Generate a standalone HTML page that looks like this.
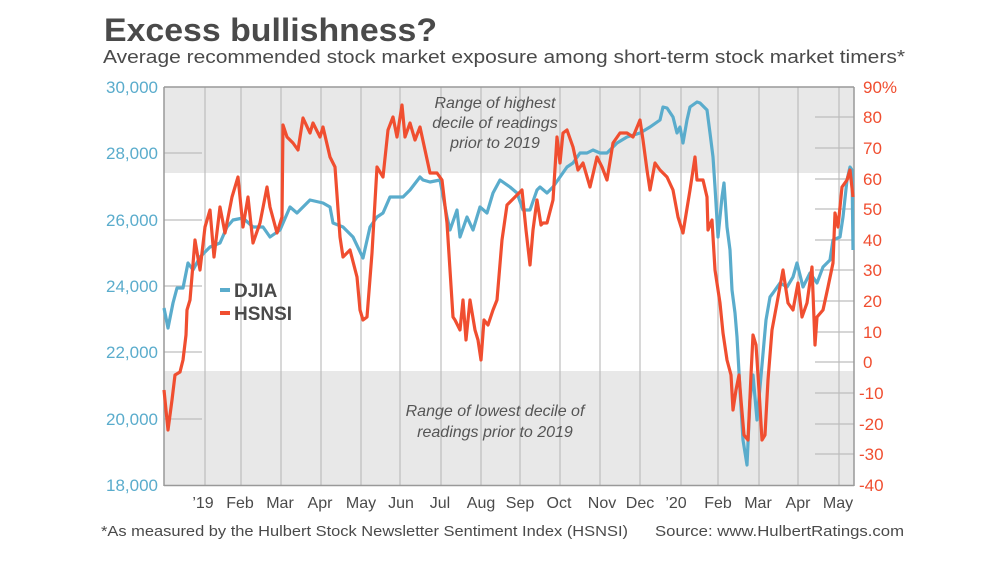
<!DOCTYPE html>
<html><head><meta charset="utf-8"><style>
body{margin:0;background:#fff;}
svg{display:block;font-family:"Liberation Sans",sans-serif;}
</style></head><body>
<svg width="1000" height="562" viewBox="0 0 1000 562">
<text x="104" y="41" font-size="32" font-weight="bold" fill="#4a4a4a" textLength="333" lengthAdjust="spacingAndGlyphs">Excess bullishness?</text>
<text x="103" y="63" font-size="18" fill="#4a4a4a" textLength="802" lengthAdjust="spacingAndGlyphs">Average recommended stock market exposure among short-term stock market timers*</text>
<rect x="164" y="87" width="690" height="86" fill="#e8e8e8"/>
<rect x="164" y="371" width="690" height="114" fill="#e8e8e8"/>
<g stroke="#bdbdbd" stroke-width="1.2">
<line x1="205" y1="87" x2="205" y2="485"/><line x1="241" y1="87" x2="241" y2="485"/><line x1="281" y1="87" x2="281" y2="485"/><line x1="321" y1="87" x2="321" y2="485"/><line x1="361" y1="87" x2="361" y2="485"/><line x1="400" y1="87" x2="400" y2="485"/><line x1="441" y1="87" x2="441" y2="485"/><line x1="481" y1="87" x2="481" y2="485"/><line x1="520" y1="87" x2="520" y2="485"/><line x1="560" y1="87" x2="560" y2="485"/><line x1="600" y1="87" x2="600" y2="485"/><line x1="640" y1="87" x2="640" y2="485"/><line x1="681" y1="87" x2="681" y2="485"/><line x1="718" y1="87" x2="718" y2="485"/><line x1="759" y1="87" x2="759" y2="485"/><line x1="798" y1="87" x2="798" y2="485"/><line x1="839" y1="87" x2="839" y2="485"/>
<line x1="164" y1="153" x2="202" y2="153"/><line x1="164" y1="220" x2="202" y2="220"/><line x1="164" y1="286" x2="202" y2="286"/><line x1="164" y1="352" x2="202" y2="352"/><line x1="164" y1="419" x2="202" y2="419"/>
<line x1="815" y1="117" x2="854" y2="117"/><line x1="815" y1="148" x2="854" y2="148"/><line x1="815" y1="179" x2="854" y2="179"/><line x1="815" y1="209" x2="854" y2="209"/><line x1="815" y1="240" x2="854" y2="240"/><line x1="815" y1="270" x2="854" y2="270"/><line x1="815" y1="301" x2="854" y2="301"/><line x1="815" y1="332" x2="854" y2="332"/><line x1="815" y1="362" x2="854" y2="362"/><line x1="815" y1="393" x2="854" y2="393"/><line x1="815" y1="424" x2="854" y2="424"/><line x1="815" y1="454" x2="854" y2="454"/>
</g>
<g stroke="#999" stroke-width="1.5"><line x1="164" y1="87" x2="854" y2="87"/><line x1="164" y1="87" x2="164" y2="486"/><line x1="854" y1="87" x2="854" y2="486"/><line x1="164" y1="485.5" x2="854" y2="485.5"/></g>
<g font-size="17" fill="#5aaccc" text-anchor="end">
<text x="158" y="93">30,000</text><text x="158" y="159">28,000</text><text x="158" y="226">26,000</text><text x="158" y="292">24,000</text><text x="158" y="358">22,000</text><text x="158" y="425">20,000</text><text x="158" y="491">18,000</text>
</g>
<g font-size="17" fill="#f04e30">
<text x="863" y="93">90%</text><text x="863" y="123">80</text><text x="863" y="154">70</text><text x="863" y="185">60</text><text x="863" y="215">50</text><text x="863" y="246">40</text><text x="863" y="276">30</text><text x="863" y="307">20</text><text x="863" y="338">10</text><text x="863" y="368">0</text><text x="859" y="399">-10</text><text x="859" y="430">-20</text><text x="859" y="460">-30</text><text x="859" y="491">-40</text>
</g>
<g font-size="16" fill="#4a4a4a" text-anchor="middle">
<text x="203" y="508">’19</text><text x="240" y="508">Feb</text><text x="280" y="508">Mar</text><text x="320" y="508">Apr</text><text x="361" y="508">May</text><text x="401" y="508">Jun</text><text x="440" y="508">Jul</text><text x="481" y="508">Aug</text><text x="520" y="508">Sep</text><text x="559" y="508">Oct</text><text x="602" y="508">Nov</text><text x="640" y="508">Dec</text><text x="676" y="508">’20</text><text x="718" y="508">Feb</text><text x="758" y="508">Mar</text><text x="798" y="508">Apr</text><text x="838" y="508">May</text>
</g>
<g font-size="16" font-style="italic" fill="#555" text-anchor="middle">
<text x="495" y="108">Range of highest</text><text x="495" y="128">decile of readings</text><text x="495" y="148">prior to 2019</text>
<text x="495" y="416">Range of lowest decile of</text><text x="495" y="437">readings prior to 2019</text>
</g>
<polyline fill="none" stroke="#5aaccc" stroke-width="3.2" stroke-linejoin="round" points="164,308 168,328 173,303 177,288 183,288 188,263 193,270 200,257 210,247 220,243 227,227 233,220 243,218 253,227 263,227 270,237 280,230 290,207 297,213 310,200 323,203 330,207 333,223 343,227 353,237 363,258 370,227 377,217 383,213 390,197 403,197 410,190 420,177 423,180 430,182 440,180 447,217 450,230 457,210 460,237 467,217 473,230 480,207 487,213 493,193 500,180 510,187 517,193 523,210 530,210 537,190 540,187 547,193 553,187 560,177 567,167 573,163 580,153 587,153 593,150 600,153 607,153 617,143 627,137 640,133 650,127 660,120 663,107 667,108 673,117 677,133 680,127 683,143 687,120 690,107 697,102 700,103 707,110 710,133 713,157 715,187 717,220 718,237 722,197 724,183 727,227 730,250 732,290 735,313 737,337 740,390 743,440 747,465 750,400 753,375 757,420 762,365 766,320 770,297 773,293 780,283 787,287 793,277 797,263 803,287 810,273 817,283 823,267 830,260 833,240 840,237 843,217 847,180 850,167 852,170 853,250"/>
<polyline fill="none" stroke="#f04e30" stroke-width="3.2" stroke-linejoin="round" points="164,390 168,430 172,400 175,375 180,372 183,360 186,335 187,310 190,300 195,240 200,270 205,227 210,210 214,257 220,207 225,233 232,197 238,177 243,227 248,197 253,243 260,223 267,187 270,207 277,233 282,217 283,125 287,137 293,143 298,150 303,118 310,133 313,123 320,137 323,127 330,157 335,167 340,237 343,257 350,250 357,277 360,310 363,320 367,317 372,253 377,167 383,177 388,130 393,117 397,137 402,105 405,137 410,123 415,140 420,127 425,150 430,173 437,173 442,180 447,223 453,317 455,320 460,330 463,300 466,340 470,300 475,330 478,340 481,360 484,320 488,325 493,310 497,300 502,240 507,205 512,200 517,195 522,190 526,230 530,265 533,230 537,200 541,225 543,223 547,223 553,200 557,137 560,163 563,133 567,130 573,147 578,170 583,163 590,187 597,157 602,167 607,180 613,143 620,133 627,133 633,137 640,120 643,140 647,170 650,190 655,163 660,170 667,177 673,190 678,217 683,233 690,190 695,157 697,180 703,180 707,197 708,230 712,220 715,270 720,303 723,333 727,360 731,375 733,410 736,390 739,375 741,400 744,435 748,440 751,375 753,335 756,345 759,390 762,440 765,435 768,380 772,330 777,303 783,270 788,303 793,310 798,283 802,317 807,303 812,267 815,345 817,317 823,310 828,287 833,263 835,213 838,227 842,187 847,180 850,170 853,197"/>
<line x1="220" y1="290" x2="230" y2="290" stroke="#5aaccc" stroke-width="4"/>
<line x1="220" y1="313" x2="230" y2="313" stroke="#f04e30" stroke-width="4"/>
<text x="234" y="297" font-size="19" font-weight="bold" fill="#4a4a4a">DJIA</text>
<text x="234" y="320" font-size="19" font-weight="bold" fill="#4a4a4a">HSNSI</text>
<text x="101" y="536" font-size="15" fill="#4a4a4a" textLength="527" lengthAdjust="spacingAndGlyphs">*As measured by the Hulbert Stock Newsletter Sentiment Index (HSNSI)</text>
<text x="655" y="536" font-size="15" fill="#4a4a4a" textLength="249" lengthAdjust="spacingAndGlyphs">Source: www.HulbertRatings.com</text>
</svg>
</body></html>
